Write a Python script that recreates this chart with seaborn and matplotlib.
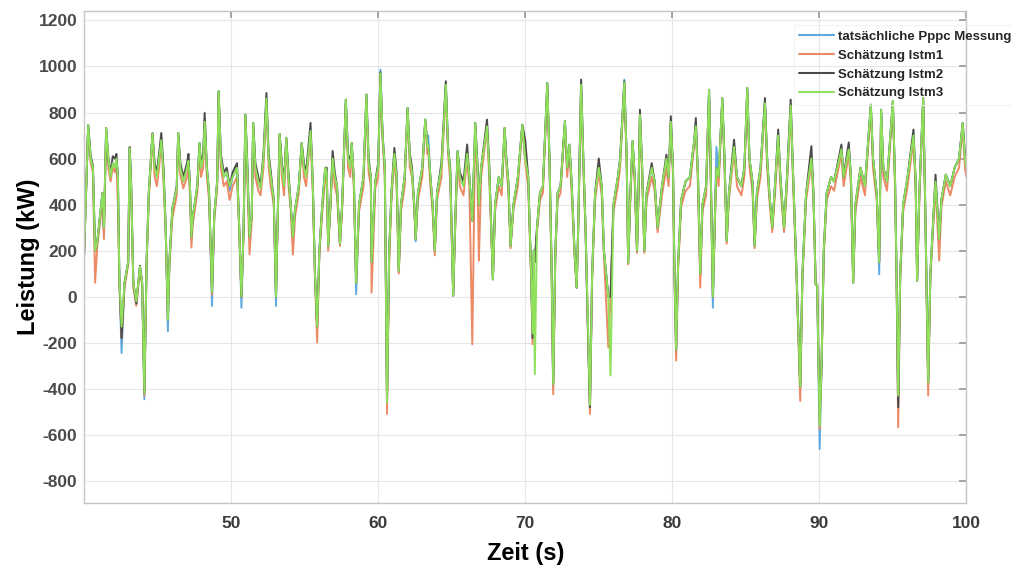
import matplotlib
matplotlib.use("Agg")
import matplotlib.pyplot as plt
import numpy as np
import pandas as pd
import seaborn as sns

# Time axis (s) shared by all four traces
zeit = [
    40.00, 40.28, 40.45, 40.60, 40.75, 40.90, 41.05, 41.25, 41.35, 41.50, 41.65, 41.80,
    41.95, 42.10, 42.20, 42.30, 42.40, 42.55, 42.75, 43.00, 43.10, 43.20, 43.35, 43.55,
    43.80, 43.95, 44.10, 44.25, 44.40, 44.65, 44.80, 44.95, 45.10, 45.25, 45.40, 45.55,
    45.70, 45.80, 46.00, 46.30, 46.40, 46.55, 46.75, 47.00, 47.10, 47.20, 47.30, 47.40,
    47.70, 47.85, 47.95, 48.10, 48.20, 48.35, 48.50, 48.70, 48.85, 49.05, 49.15, 49.30,
    49.50, 49.70, 49.90, 50.10, 50.40, 50.55, 50.70, 50.85, 50.97, 51.10, 51.25, 51.40,
    51.50, 51.65, 51.85, 52.00, 52.20, 52.40, 52.55, 52.70, 52.90, 53.05, 53.15, 53.30,
    53.45, 53.60, 53.75, 53.90, 54.05, 54.20, 54.35, 54.60, 54.80, 54.95, 55.10, 55.40,
    55.55, 55.70, 55.85, 56.00, 56.20, 56.40, 56.50, 56.60, 56.75, 56.90, 57.05, 57.20,
    57.40, 57.55, 57.80, 57.95, 58.10, 58.20, 58.35, 58.50, 58.70, 59.00, 59.20, 59.35,
    59.50, 59.55, 59.80, 60.00, 60.15, 60.30, 60.45, 60.60, 60.75, 60.90, 61.10, 61.25,
    61.40, 61.55, 61.80, 62.00, 62.15, 62.30, 62.45, 62.55, 62.70, 63.00, 63.20, 63.35,
    63.40, 63.55, 63.70, 63.85, 64.00, 64.30, 64.60, 64.75, 64.90, 65.10, 65.25, 65.40,
    65.55, 65.80, 66.05, 66.20, 66.40, 66.60, 66.75, 66.85, 67.00, 67.40, 67.55, 67.80,
    67.95, 68.20, 68.40, 68.60, 68.70, 68.85, 69.00, 69.20, 69.50, 69.80, 70.00, 70.20,
    70.40, 70.50, 70.58, 70.65, 70.80, 71.00, 71.20, 71.50, 71.65, 71.80, 71.90, 72.05,
    72.20, 72.40, 72.70, 72.85, 73.00, 73.15, 73.35, 73.50, 73.60, 73.80, 73.95, 74.10,
    74.25, 74.40, 74.55, 74.75, 75.00, 75.20, 75.35, 75.65, 75.80, 76.00, 76.30, 76.45,
    76.74, 76.90, 77.00, 77.15, 77.30, 77.45, 77.60, 77.70, 77.80, 77.95, 78.10, 78.25,
    78.60, 78.80, 79.00, 79.30, 79.60, 79.75, 79.90, 80.05, 80.15, 80.26, 80.40, 80.60,
    80.90, 81.20, 81.50, 81.60, 81.75, 81.90, 82.05, 82.30, 82.50, 82.60, 82.76, 82.90,
    83.00, 83.15, 83.40, 83.55, 83.70, 83.85, 84.20, 84.40, 84.70, 84.90, 85.10, 85.25,
    85.45, 85.60, 85.75, 86.00, 86.30, 86.45, 86.60, 86.80, 87.00, 87.20, 87.35, 87.60,
    87.80, 88.05, 88.20, 88.45, 88.70, 88.85, 89.10, 89.46, 89.60, 89.75, 89.85, 90.02,
    90.15, 90.30, 90.50, 90.80, 91.00, 91.50, 91.65, 92.00, 92.15, 92.30, 92.45, 92.80,
    93.10, 93.50, 93.65, 93.90, 94.07, 94.20, 94.35, 94.60, 95.00, 95.15, 95.25, 95.36,
    95.50, 95.70, 96.00, 96.40, 96.55, 96.65, 96.80, 97.06, 97.20, 97.40, 97.55, 97.80,
    97.90, 98.15, 98.30, 98.60, 98.90, 99.20, 99.50, 99.75, 99.90, 100.00,
]

# Measured PPPC power (kW)
messung = [
    180, 745, 600, 560, 200, 240, 330, 450, 260, 733, 600, 520,
    580, 560, 600, 520, 80, -245, 60, 150, 646, 480, 60, -30,
    130, 60, -445, 150, 450, 707, 560, 520, 600, 690, 540, 300,
    -150, 150, 380, 470, 711, 560, 500, 560, 600, 480, 260, 350,
    480, 668, 560, 600, 770, 560, 450, -40, 350, 500, 892, 600,
    520, 540, 460, 520, 560, 300, -48, 300, 791, 560, 260, 350,
    755, 560, 500, 470, 600, 860, 600, 520, 420, -40, 300, 707,
    560, 480, 690, 520, 400, 260, 380, 480, 668, 560, 520, 720,
    500, 100, -140, 200, 400, 560, 540, 220, 400, 600, 520, 480,
    230, 400, 856, 600, 560, 668, 500, 10, 400, 520, 878, 580,
    520, 150, 500, 560, 986, 700, 560, -470, 200, 450, 620, 520,
    112, 400, 520, 820, 600, 540, 400, 240, 450, 560, 769, 650,
    700, 520, 400, 200, 450, 560, 920, 650, 540, 4, 350, 633,
    520, 480, 620, 520, 330, 755, 560, 400, 560, 740, 560, 75,
    400, 520, 480, 733, 600, 500, 220, 400, 520, 747, 600, 520,
    100, -180, 200, 150, 300, 450, 480, 928, 600, 100, -400, 200,
    450, 480, 762, 560, 660, 500, 200, 39, 300, 920, 600, 300,
    -113, -480, 100, 450, 560, 480, 200, 0, 0, 400, 520, 590,
    943, 600, 147, 450, 675, 520, 200, 450, 790, 560, 200, 450,
    560, 500, 300, 480, 600, 520, 760, 550, 100, -240, 150, 420,
    500, 520, 682, 740, 520, 100, 400, 480, 899, 600, -48, 350,
    650, 520, 863, 600, 243, 450, 650, 520, 480, 560, 907, 600,
    500, 221, 450, 560, 840, 600, 450, 300, 500, 700, 520, 300,
    520, 830, 560, 100, -400, 100, 450, 600, 450, 53, 53, -662,
    -300, 200, 450, 520, 500, 640, 520, 640, 520, 61, 400, 560,
    480, 834, 600, 450, 97, 812, 560, 500, 849, 500, 100, -500,
    100, 400, 520, 700, 500, 69, 450, 863, 400, -373, 100, 400,
    500, 250, 420, 530, 480, 560, 600, 755, 600, 560,
]

# Estimate of model lstm1 (kW)
lstm1 = [
    180, 740, 580, 540, 60, 220, 300, 420, 250, 720, 560, 500,
    560, 540, 580, 400, 60, -180, 40, 140, 630, 460, 40, -40,
    120, 50, -430, 140, 420, 700, 520, 480, 560, 680, 500, 280,
    -100, 130, 340, 440, 700, 530, 470, 520, 560, 440, 213, 320,
    450, 650, 520, 560, 760, 520, 420, 10, 330, 470, 880, 560,
    480, 500, 420, 480, 520, 280, 0, 280, 780, 520, 183, 330,
    740, 520, 460, 440, 560, 850, 560, 480, 400, 0, 280, 700,
    520, 440, 680, 480, 380, 183, 350, 450, 660, 520, 480, 710,
    460, 80, -200, 180, 370, 520, 500, 200, 380, 580, 480, 440,
    220, 380, 840, 560, 520, 650, 460, 60, 370, 480, 860, 540,
    480, 17, 470, 520, 960, 680, 520, -510, 150, 420, 600, 480,
    100, 370, 480, 810, 560, 520, 380, 250, 420, 520, 760, 620,
    640, 480, 370, 180, 420, 520, 900, 620, 500, 10, 320, 620,
    480, 440, 600, 480, -207, 740, 520, 156, 520, 730, 520, 80,
    370, 480, 440, 720, 580, 460, 210, 380, 480, 740, 580, 480,
    80, -207, 180, 150, 280, 420, 450, 910, 560, 80, -424, 180,
    420, 450, 750, 520, 640, 460, 180, 39, 280, 900, 560, 280,
    -120, -510, 80, 420, 540, 440, 180, -221, 0, 370, 480, 560,
    920, 560, 140, 420, 660, 480, 190, 420, 780, 520, 190, 420,
    520, 460, 280, 440, 560, 480, 750, 520, 80, -278, 130, 390,
    460, 480, 670, 730, 480, 39, 370, 440, 880, 560, 0, 320,
    560, 480, 850, 560, 230, 420, 630, 480, 440, 520, 890, 560,
    460, 210, 420, 520, 830, 560, 420, 280, 460, 680, 480, 280,
    480, 820, 520, 80, -453, 80, 420, 580, 420, 53, 53, -575,
    -320, 180, 420, 480, 460, 620, 480, 620, 480, 61, 370, 520,
    440, 820, 560, 420, 150, 800, 520, 460, 830, 460, 80, -568,
    80, 370, 480, 680, 460, 69, 420, 850, 370, -430, 80, 370,
    480, 156, 390, 500, 440, 520, 560, 740, 560, 520,
]

# Estimate of model lstm2 (kW)
lstm2 = [
    180, 745, 610, 570, 200, 240, 330, 450, 300, 733, 600, 540,
    610, 600, 620, 520, 80, -180, 60, 150, 650, 500, 60, -30,
    134, 60, -420, 150, 450, 710, 580, 540, 620, 711, 560, 300,
    -100, 150, 380, 480, 711, 580, 520, 580, 620, 480, 260, 350,
    480, 668, 580, 620, 798, 560, 450, 20, 350, 500, 892, 620,
    540, 560, 480, 540, 580, 300, 0, 300, 791, 580, 260, 350,
    755, 580, 520, 480, 620, 885, 620, 540, 420, 0, 300, 707,
    580, 500, 690, 540, 400, 260, 380, 480, 668, 580, 540, 755,
    500, 100, -130, 200, 400, 560, 560, 220, 400, 633, 540, 480,
    230, 400, 856, 620, 580, 668, 500, 60, 400, 520, 878, 600,
    520, 150, 500, 580, 975, 700, 560, -450, 200, 450, 646, 540,
    112, 400, 520, 820, 620, 560, 400, 250, 450, 560, 769, 660,
    660, 520, 400, 200, 450, 580, 936, 650, 560, 4, 350, 633,
    540, 500, 661, 520, 330, 755, 580, 400, 560, 769, 580, 75,
    400, 520, 480, 733, 620, 500, 220, 400, 520, 747, 680, 520,
    100, -180, 200, 150, 300, 450, 480, 928, 600, 100, -380, 200,
    450, 480, 762, 560, 660, 500, 200, 39, 300, 943, 600, 300,
    -113, -480, 100, 450, 600, 480, 200, 0, 0, 400, 520, 600,
    935, 600, 147, 450, 675, 520, 200, 450, 812, 560, 200, 450,
    580, 500, 300, 480, 617, 520, 784, 550, 100, -230, 150, 420,
    500, 520, 682, 776, 520, 100, 400, 480, 899, 600, 0, 350,
    560, 520, 863, 600, 243, 450, 682, 520, 480, 560, 907, 600,
    500, 221, 450, 560, 863, 600, 450, 300, 500, 726, 520, 300,
    520, 856, 560, 100, -390, 100, 450, 654, 450, 53, 53, -520,
    -300, 200, 450, 520, 500, 661, 520, 670, 520, 61, 400, 560,
    480, 834, 600, 450, 150, 812, 560, 500, 849, 500, 100, -480,
    100, 400, 520, 726, 500, 69, 450, 863, 400, -373, 100, 400,
    530, 250, 420, 530, 480, 560, 600, 755, 620, 620,
]

# Estimate of model lstm3 (kW)
lstm3 = [
    180, 745, 600, 560, 200, 240, 330, 450, 300, 733, 600, 520,
    580, 560, 600, 520, 80, -130, 60, 150, 646, 480, 60, -20,
    130, 60, -420, 150, 450, 707, 560, 520, 600, 680, 540, 300,
    -100, 150, 380, 470, 711, 560, 500, 560, 590, 480, 260, 350,
    480, 668, 560, 600, 760, 560, 450, 20, 350, 500, 892, 600,
    520, 540, 480, 520, 560, 300, 0, 300, 791, 560, 260, 350,
    755, 560, 500, 470, 600, 860, 600, 520, 420, 0, 300, 707,
    560, 480, 690, 520, 400, 260, 380, 480, 668, 560, 520, 720,
    500, 100, -130, 200, 400, 560, 540, 220, 400, 600, 520, 480,
    230, 400, 856, 600, 560, 668, 500, 60, 400, 520, 878, 580,
    520, 150, 500, 560, 970, 700, 560, -460, 200, 450, 620, 520,
    112, 400, 520, 820, 600, 540, 400, 250, 450, 560, 769, 650,
    660, 520, 400, 200, 450, 560, 920, 650, 540, 4, 350, 633,
    520, 480, 620, 520, 330, 755, 560, 400, 560, 740, 560, 75,
    400, 520, 480, 733, 600, 500, 220, 400, 520, 747, 600, 520,
    100, -160, 200, -337, 300, 450, 480, 928, 600, 100, -380, 200,
    450, 480, 762, 560, 660, 500, 200, 39, 300, 920, 600, 300,
    -90, -470, 100, 450, 560, 480, 200, 0, -343, 400, 520, 590,
    930, 600, 147, 450, 675, 520, 200, 450, 790, 560, 200, 450,
    560, 500, 300, 480, 600, 520, 760, 550, 100, -230, 150, 420,
    500, 520, 682, 740, 520, 100, 400, 480, 899, 600, 0, 350,
    560, 520, 863, 600, 243, 450, 650, 520, 480, 560, 907, 600,
    500, 221, 450, 560, 840, 600, 450, 300, 500, 700, 520, 300,
    520, 830, 560, 100, -390, 100, 450, 600, 450, 53, 53, -560,
    -300, 200, 450, 520, 500, 640, 520, 640, 520, 61, 400, 560,
    480, 834, 600, 450, 150, 812, 560, 500, 849, 500, 100, -430,
    100, 400, 520, 700, 500, 69, 450, 863, 400, -373, 100, 400,
    500, 250, 420, 530, 480, 560, 600, 755, 600, 560,
]

labels = [
    "tatsächliche Pppc Messung",
    "Schätzung lstm1",
    "Schätzung lstm2",
    "Schätzung lstm3",
]
colors = ["#5fa8e0", "#ec8a66", "#4a4a4a", "#8fe05a"]
x_ticks = [50, 60, 70, 80, 90, 100]
y_ticks = list(range(-800, 1201, 200))

frames = []
for name, vals in zip(labels, [messung, lstm1, lstm2, lstm3]):
    frames.append(pd.DataFrame({"Zeit": zeit, "Leistung": vals, "Reihe": name}))
df = pd.concat(frames, ignore_index=True)

sns.set_theme(style="white")
plt.rcParams["font.family"] = ["Liberation Sans", "DejaVu Sans"]
plt.rcParams["axes.unicode_minus"] = False

fig = plt.figure(figsize=(10.13, 5.73), dpi=100)
ax = fig.add_axes([0.083, 0.122, 0.871, 0.858])

sns.lineplot(
    data=df, x="Zeit", y="Leistung", hue="Reihe", hue_order=labels,
    palette=colors, estimator=None, sort=False, linewidth=1.4, ax=ax,
)

ax.set_xlim(40, 100)
ax.set_ylim(-897, 1239)
ax.set_xticks(x_ticks)
ax.set_yticks(y_ticks)
ax.grid(True, color="#e6e6e6", linewidth=0.8)
ax.set_axisbelow(True)

for side in ax.spines.values():
    side.set_color("#c4c4c4")
    side.set_linewidth(1.0)

ax.tick_params(axis="both", which="both", direction="in", length=5,
               color="#9a9a9a", top=True, right=True)
ax.tick_params(axis="y", labelsize=12.5, labelcolor="#4a4a4a", pad=5)
ax.tick_params(axis="x", labelsize=12.5, labelcolor="#3a3a3a", pad=9)
for lab in ax.get_xticklabels() + ax.get_yticklabels():
    lab.set_fontweight("bold")

ax.set_xlabel("Zeit (s)", fontsize=17, fontweight="bold", color="black", labelpad=8)
ax.set_ylabel("Leistung (kW)", fontsize=17, fontweight="bold", color="black")
ax.yaxis.set_label_coords(-0.05, 0.5)

leg = ax.legend(
    loc="upper right", bbox_to_anchor=(1.064, 0.985), frameon=True,
    fontsize=9.5, handlelength=2.65, handletextpad=0.25, labelspacing=0.5,
    borderpad=0.4, fancybox=False,
)
frame = leg.get_frame()
frame.set_facecolor("none")
frame.set_edgecolor("#f0f0f0")
frame.set_linewidth(0.8)
for txt in leg.get_texts():
    txt.set_fontweight("bold")
for line in leg.get_lines():
    line.set_linewidth(1.5)

fig.savefig("out.png", dpi=100, facecolor="white")
